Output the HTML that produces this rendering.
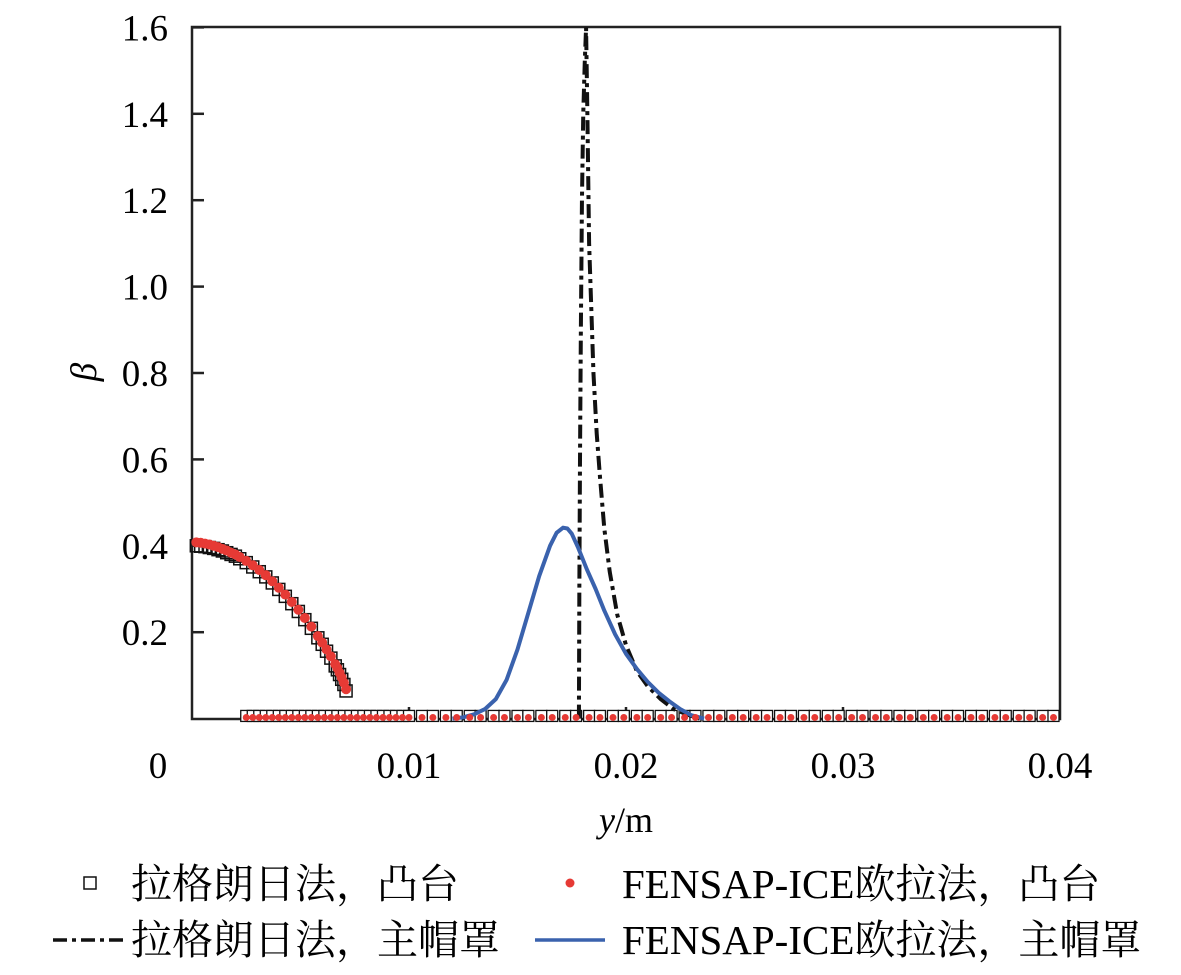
<!DOCTYPE html>
<html><head><meta charset="utf-8"><style>
body{margin:0;background:#fff;width:1181px;height:970px;overflow:hidden}
svg{font-family:"Liberation Serif","Noto Serif CJK SC","Noto Sans CJK SC",serif}
</style></head><body>
<svg id="chart" width="1181" height="970" viewBox="0 0 1181 970" xmlns="http://www.w3.org/2000/svg">
<rect x="192" y="27" width="868" height="692" fill="none" stroke="#222" stroke-width="2.5"/>
<g id="ticks"></g>
<g id="series"></g>
<text x="96" y="372" font-size="37" font-style="italic" text-anchor="middle" transform="rotate(-90 96 372)">β</text>
<text x="626" y="832" font-size="36" text-anchor="middle"><tspan font-style="italic">y</tspan>/m</text>
<g font-size="41" font-family="Liberation Serif, Noto Serif CJK SC, serif">
<rect x="84" y="877" width="12" height="12" fill="none" stroke="#111" stroke-width="1.5"/>
<text x="131" y="898">拉格朗日法，凸台</text>
<circle cx="570" cy="883" r="4.5" fill="#e63a35"/>
<text x="622" y="898">FENSAP-ICE欧拉法，凸台</text>
<line x1="53" y1="940" x2="125" y2="940" stroke="#111" stroke-width="3.5" stroke-dasharray="14,5,4,5"/>
<text x="131" y="954">拉格朗日法，主帽罩</text>
<line x1="535" y1="940" x2="605" y2="940" stroke="#3a62ad" stroke-width="3.5"/>
<text x="622" y="954">FENSAP-ICE欧拉法，主帽罩</text>
</g>
</svg>
<script>
const xTicks=[0,0.01,0.02,0.03,0.04];
const xTickLabels=["0","0.01","0.02","0.03","0.04"];
const yTicks=[0.2,0.4,0.6,0.8,1.0,1.2,1.4,1.6];
const yTickLabels=["0.2","0.4","0.6","0.8","1.0","1.2","1.4","1.6"];
const bossX=[0.0002,0.0004,0.0006,0.0008,0.0010,0.0012,0.0014,0.0016,0.0018,0.0020,0.0022,0.0025,0.0028,0.0031,0.0034,0.0037,0.0040,0.0043,0.0046,0.0049,0.0052,0.0055,0.0058,0.0060,0.0062,0.0064,0.0066,0.0067,0.0068,0.0069,0.0070,0.0071];
const bossLagrange=[0.400,0.399,0.398,0.396,0.394,0.391,0.388,0.384,0.380,0.376,0.370,0.361,0.351,0.340,0.328,0.314,0.299,0.283,0.266,0.248,0.229,0.209,0.187,0.172,0.156,0.140,0.122,0.113,0.102,0.091,0.079,0.064];
const bossFensap=[0.408,0.407,0.405,0.403,0.400,0.397,0.393,0.389,0.384,0.380,0.374,0.365,0.355,0.344,0.332,0.318,0.303,0.287,0.270,0.252,0.233,0.213,0.191,0.176,0.160,0.144,0.126,0.117,0.106,0.095,0.083,0.068];
const zeroX=[0.0025,0.0028,0.0031,0.0034,0.0037,0.0040,0.0043,0.0046,0.0049,0.0052,0.0055,0.0058,0.0061,0.0064,0.0067,0.0070,0.0073,0.0076,0.0079,0.0082,0.0085,0.0088,0.0091,0.0094,0.0097,0.0100,0.0106,0.0111,0.0117,0.0122,0.0128,0.0133,0.0139,0.0144,0.0150,0.0155,0.0161,0.0166,0.0172,0.0177,0.0183,0.0188,0.0194,0.0199,0.0205,0.0210,0.0216,0.0221,0.0227,0.0232,0.0238,0.0243,0.0249,0.0254,0.0260,0.0265,0.0271,0.0276,0.0282,0.0287,0.0293,0.0298,0.0304,0.0309,0.0315,0.0320,0.0326,0.0331,0.0337,0.0342,0.0348,0.0353,0.0359,0.0364,0.0370,0.0375,0.0381,0.0386,0.0392,0.0397];
const zeroBeta=0.005;
const capLagX=[0.01783,0.01785,0.01788,0.01792,0.01797,0.01803,0.01810,0.01816,0.01822,0.01830,0.01840,0.01850,0.01865,0.01880,0.01900,0.01925,0.01960,0.02000,0.02050,0.02100,0.02160,0.02220,0.02290,0.02340];
const capLagY=[0.0,0.3,0.6,0.9,1.2,1.4,1.52,1.6,1.4,1.1,0.95,0.8,0.66,0.56,0.44,0.34,0.24,0.17,0.11,0.075,0.045,0.022,0.008,0.0];
const capFenX=[0.0120,0.0125,0.0130,0.0135,0.0140,0.0145,0.0150,0.0155,0.0160,0.0165,0.0168,0.0171,0.0173,0.0175,0.0178,0.0182,0.0186,0.0190,0.0195,0.0200,0.0205,0.0210,0.0215,0.0220,0.0225,0.0230,0.0236];
const capFenY=[0.0,0.003,0.010,0.022,0.045,0.090,0.160,0.245,0.330,0.400,0.430,0.442,0.440,0.428,0.395,0.345,0.300,0.250,0.195,0.150,0.115,0.085,0.060,0.040,0.022,0.008,0.0];
const X=v=>192+v/0.04*868, Y=v=>718.6-v/0.2*86.4;
const NS="http://www.w3.org/2000/svg";
const tg=document.getElementById('ticks'), sg=document.getElementById('series');
function mk(tag,attrs,parent){const e=document.createElementNS(NS,tag);for(const k in attrs)e.setAttribute(k,attrs[k]);parent.appendChild(e);return e;}
xTicks.forEach((t,i)=>{
  if(i>0&&i<xTicks.length-1){const l=mk('line',{x1:X(t),x2:X(t),y1:719,y2:707,stroke:'#222','stroke-width':2.5},tg);
  
  }
  const tx=mk('text',{x:i==0?X(t)-34:X(t),y:778,'font-size':37,'text-anchor':'middle'},tg);tx.textContent=xTickLabels[i];
  
  
});
yTicks.forEach((t,i)=>{
  const l=mk('line',{x1:192,x2:204,y1:Y(t),y2:Y(t),stroke:'#222','stroke-width':2.5},tg);
  
  
  const tx=mk('text',{x:168,y:Y(t)+13,'font-size':37,'text-anchor':'end'},tg);tx.textContent=yTickLabels[i];
  
  
});
bossX.forEach((x,i)=>{
  const r=mk('rect',{x:X(x)-6,y:Y(bossLagrange[i])-6,width:12,height:12,fill:'none',stroke:'#111','stroke-width':1.5},sg);
  
  
});
zeroX.forEach(x=>{
  const r=mk('rect',{x:X(x)-5.5,y:Y(zeroBeta)-6,width:11,height:11,fill:'#fff',stroke:'#111','stroke-width':1.3},sg);
  
  
});
const lp=mk('path',{d:capLagX.map((x,i)=>(i?'L':'M')+X(x)+','+Y(capLagY[i])).join(''),fill:'none',stroke:'#111','stroke-width':4,'stroke-dasharray':'14,5,4,5'},sg);


const fp=mk('path',{d:capFenX.map((x,i)=>(i?'L':'M')+X(x)+','+Y(capFenY[i])).join(''),fill:'none',stroke:'#3a62ad','stroke-width':4,'stroke-linejoin':'round'},sg);


bossX.forEach((x,i)=>{
  const c=mk('circle',{cx:X(x),cy:Y(bossFensap[i]),r:5,fill:'#e63a35'},sg);
  
  
});
zeroX.forEach(x=>{
  const c=mk('circle',{cx:X(x),cy:Y(zeroBeta)+1,r:3.5,fill:'#e63a35'},sg);
  
  
});
</script>
</body></html>
